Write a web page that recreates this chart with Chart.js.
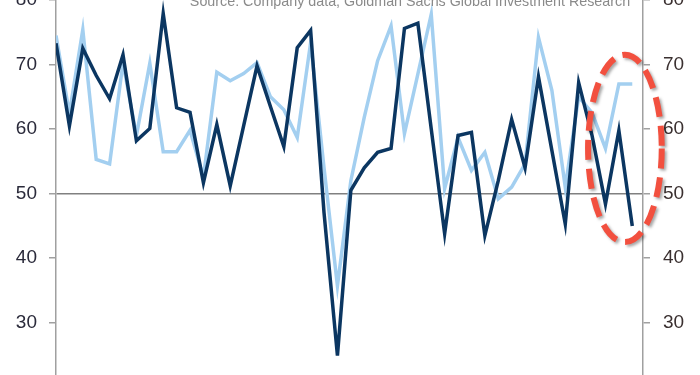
<!DOCTYPE html>
<html>
<head>
<meta charset="utf-8">
<script src="https://cdn.jsdelivr.net/npm/chart.js@4/dist/chart.umd.min.js"></script>
<style>
  body { margin: 0; background: #fff; }
  #wrap { width: 700px; height: 375px; }
</style>
</head>
<body>
<div id="wrap"><canvas id="chart" width="700" height="375"></canvas></div>
<script>
// quarterly readings (index = quarter)
const darkSeries = [
    73.3, 60.5, 72.5, 68.3, 64.7, 71.5, 58.2, 60.1, 77.9, 63.3,
    62.6, 51.7, 60.7, 51.2, 60.5, 69.8, 63.5, 57.3, 72.6, 75.3,
    47.0, 24.9, 50.5, 54.0, 56.4, 57.0, 75.6, 76.4, 60.0, 43.8,
    59.0, 59.5, 43.5, 52.0, 61.5, 54.0, 68.1, 56.7, 45.3, 67.2,
    59.0, 48.4, 59.8, 45.0
];
const lightSeries = [
    74.5, 62.4, 75.4, 55.3, 54.6, 70.3, 59.0, 70.2, 56.5, 56.5,
    59.8, 52.5, 68.8, 67.5, 68.6, 70.3, 65.0, 63.0, 58.7, 73.4,
    54.0, 35.7, 52.0, 61.8, 70.6, 76.0, 59.3, 68.5, 77.8, 50.8,
    58.7, 53.6, 56.4, 49.2, 51.0, 54.6, 74.2, 66.0, 51.0, 65.0,
    62.5, 57.0, 67.0, 67.0
];
const yTicks = [30, 40, 50, 60, 70, 80];
const sourceText = 'Source: Company data, Goldman Sachs Global Investment Research';

const toPoints = arr => arr.map((v, i) => ({ x: i, y: v }));

// red dashed ring round the last few quarters
const ringPlugin = {
    id: 'ring',
    afterDatasetsDraw(chart) {
        const ctx = chart.ctx;
        const xs = chart.scales.x;
        const ys = chart.scales.y;
        const cx = xs.getPixelForValue(42.45);
        const cy = ys.getPixelForValue(57.0);
        const rx = xs.getPixelForValue(45.2) - cx;
        const ry = ys.getPixelForValue(57.0) - ys.getPixelForValue(71.5);
        ctx.save();
        ctx.shadowColor = 'rgba(0,0,0,0.35)';
        ctx.shadowBlur = 3;
        ctx.shadowOffsetX = 2;
        ctx.shadowOffsetY = 2;
        ctx.strokeStyle = '#f2503f';
        ctx.lineWidth = 6;
        ctx.setLineDash([20, 9]);
        ctx.beginPath();
        ctx.ellipse(cx, cy, rx, ry, 0, 0, Math.PI * 2);
        ctx.stroke();
        ctx.restore();
    }
};

const sourcePlugin = {
    id: 'source',
    afterDraw(chart) {
        const ctx = chart.ctx;
        ctx.save();
        ctx.font = '14.3px "Liberation Sans", Arial, sans-serif';
        ctx.fillStyle = '#8a8a8a';
        ctx.textAlign = 'center';
        ctx.textBaseline = 'alphabetic';
        ctx.fillText(sourceText, 410, 6);
        ctx.restore();
    }
};

const axisFont = { family: '"Liberation Sans", Arial, sans-serif', size: 19 };

new Chart(document.getElementById('chart'), {
    type: 'line',
    data: {
        datasets: [
            {
                data: toPoints(lightSeries),
                borderColor: '#a3cff0',
                borderWidth: 3.5,
                pointRadius: 0,
                tension: 0,
                order: 2
            },
            {
                data: toPoints(darkSeries),
                borderColor: '#0b3661',
                borderWidth: 3.5,
                pointRadius: 0,
                tension: 0,
                order: 1
            }
        ]
    },
    options: {
        responsive: false,
        animation: false,
        devicePixelRatio: 1,
        layout: { padding: 0 },
        plugins: {
            legend: { display: false },
            tooltip: { enabled: false }
        },
        scales: {
            x: {
                type: 'linear',
                min: 0,
                max: 43.8,
                display: false
            },
            y: {
                position: 'left',
                min: 21.9,
                max: 80,
                afterBuildTicks: s => { s.ticks = yTicks.map(v => ({ value: v })); },
                afterFit: s => { s.width = 56; s.paddingTop = 0; s.paddingBottom = 0; },
                border: { color: '#a0a0a0', width: 1.5 },
                grid: {
                    color: c => (c.tick && c.tick.value === 50 ? '#808080' : 'rgba(0,0,0,0)'),
                    lineWidth: 1.5,
                    tickLength: 7,
                    tickColor: '#a0a0a0'
                },
                ticks: { padding: 12, color: '#2a2a3a', font: axisFont }
            },
            y2: {
                position: 'right',
                min: 21.9,
                max: 80,
                afterBuildTicks: s => { s.ticks = yTicks.map(v => ({ value: v })); },
                afterFit: s => { s.width = 57; s.paddingTop = 0; s.paddingBottom = 0; },
                border: { color: '#a0a0a0', width: 1.5 },
                grid: {
                    drawOnChartArea: false,
                    lineWidth: 1.5,
                    tickLength: 7,
                    tickColor: '#a0a0a0'
                },
                ticks: { padding: 13, color: '#3a3030', font: axisFont }
            }
        }
    },
    plugins: [ringPlugin, sourcePlugin]
});
</script>
</body>
</html>
